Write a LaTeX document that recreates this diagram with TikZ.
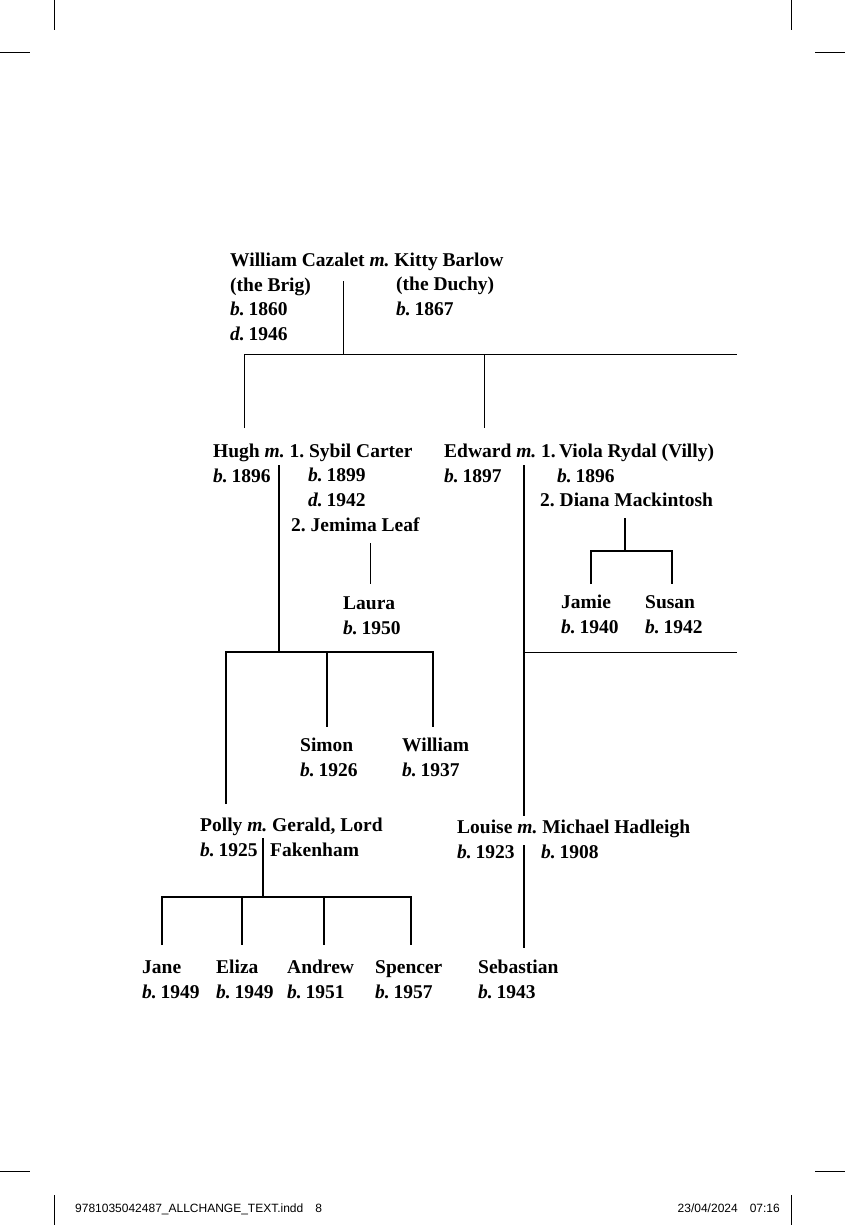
\documentclass[tikz,border=0pt]{standalone}
\usepackage{fontspec}
\setmainfont{Liberation Serif}
\newfontfamily\slugfont{Liberation Sans}
\frenchspacing
\newcommand{\marr}{\textit{m.}}
\newcommand{\born}{\textit{b.}\kern-1pt}
\newcommand{\died}{\textit{d.}\kern-1pt}
\tikzset{person/.style = {anchor=base west, align=left, inner sep=0pt, font=\fontsize{19.5}{24.5}\selectfont\bfseries},
         tie/.style = {line width=1pt},
         stem/.style = {line width=2pt},
         slug/.style = {inner sep=0pt, font=\slugfont\fontsize{12}{14}\selectfont}}
\begin{document}
\begin{tikzpicture}[x=1pt,y=-1pt]
    \useasboundingbox (0,0) rectangle (845,1225);
    \draw[tie] (54,0)--(54,30) (791,0)--(791,30) (0,53)--(30,53) (815,53)--(845,53);
    \draw[tie] (0,1171)--(30,1171) (815,1171)--(845,1171) (54,1195)--(54,1225) (791,1195)--(791,1225);
    \node[slug, anchor=base west](file)at(75,1212){9781035042487\_ALLCHANGE\_TEXT.indd\quad 8};
    \node[slug, anchor=base east](date)at(780,1212){23/04/2024\quad 07:16};

    \node[person](brig)at(230,340){William Cazalet \marr{} Kitty Barlow\\(the Brig)\\\born{} 1860\\\died{} 1946};
    \node[person](duchy)at(396,315){(the Duchy)\\\born{} 1867};
    \node[person](hugh)at(213,482){Hugh \marr{} 1. Sybil Carter\\\born{} 1896};
    \node[person](sybil)at(308,506){\born{} 1899\\\died{} 1942};
    \node[person](jemima)at(291,531){2. Jemima Leaf};
    \node[person](laura)at(343,634){Laura\\\born{} 1950};
    \node[person](edward)at(444,482){Edward \marr{} 1.\,Viola Rydal (Villy)\\\born{} 1897};
    \node[person](villy)at(557,482){\born{} 1896};
    \node[person](diana)at(540,506){2. Diana Mackintosh};
    \node[person](jamie)at(561,633){Jamie\\\born{} 1940};
    \node[person](susan)at(645,633){Susan\\\born{} 1942};
    \node[person](simon)at(300,776){Simon\\\born{} 1926};
    \node[person](william)at(402,776){William\\\born{} 1937};
    \node[person](polly)at(200,856){Polly \marr{} Gerald, Lord\\\born{} 1925};
    \node[person](gerald)at(270,856){Fakenham};
    \node[person](louise)at(457,858){Louise \marr{} Michael Hadleigh\\\born{} 1923};
    \node[person](michael)at(541,858){\born{} 1908};
    \node[person](jane)at(142,998){Jane\\\born{} 1949};
    \node[person](eliza)at(216,998){Eliza\\\born{} 1949};
    \node[person](andrew)at(287,998){Andrew\\\born{} 1951};
    \node[person](spencer)at(375,998){Spencer\\\born{} 1957};
    \node[person](sebastian)at(478,998){Sebastian\\\born{} 1943};

    \coordinate(bc)at(343,281); \coordinate(bcj)at(343,354);
    \coordinate(bcw)at(244,354); \coordinate(bce)at(737,354);
    \coordinate(hugh0)at(244,428); \coordinate(edward0)at(484,428);
    \draw[tie](bc)--(bcj);
    \draw[tie](hugh0)--(bcw)--(bce);
    \draw[tie](edward0|-bcw)--(edward0);

    \coordinate(hc)at(279,465); \coordinate(hcj)at(279,652);
    \coordinate(polly0)at(226,804); \coordinate(simon0)at(327,727); \coordinate(william0)at(433,727);
    \draw[stem](hc)--(hcj);
    \draw[stem](polly0)|-(hcj)-|(william0);
    \draw[stem](simon0|-hcj)--(simon0);
    \coordinate(jc)at(370,543); \coordinate(laura0)at(370,584);
    \draw[tie](jc)--(laura0);

    \coordinate(ec)at(524,465); \coordinate(louise0)at(524,816); \coordinate(ece)at(737,652);
    \draw[stem](ec)--(louise0);
    \draw[tie](ec|-ece)--(ece);
    \coordinate(dc)at(625,518); \coordinate(dcj)at(625,551);
    \coordinate(jamie0)at(591,584); \coordinate(susan0)at(672,584);
    \draw[stem](dc)--(dcj);
    \draw[stem](jamie0)|-(dcj)-|(susan0);

    \coordinate(pc)at(263,838); \coordinate(pcj)at(263,897);
    \coordinate(jane0)at(162,945); \coordinate(eliza0)at(242,945);
    \coordinate(andrew0)at(324,945); \coordinate(spencer0)at(411,945);
    \draw[stem](pc)--(pcj);
    \draw[stem](jane0)|-(pcj)-|(spencer0);
    \draw[stem](eliza0|-pcj)--(eliza0);
    \draw[stem](andrew0|-pcj)--(andrew0);
    \coordinate(lc)at(524,845); \coordinate(sebastian0)at(524,948);
    \draw[stem](lc)--(sebastian0);
\end{tikzpicture}
\end{document}
